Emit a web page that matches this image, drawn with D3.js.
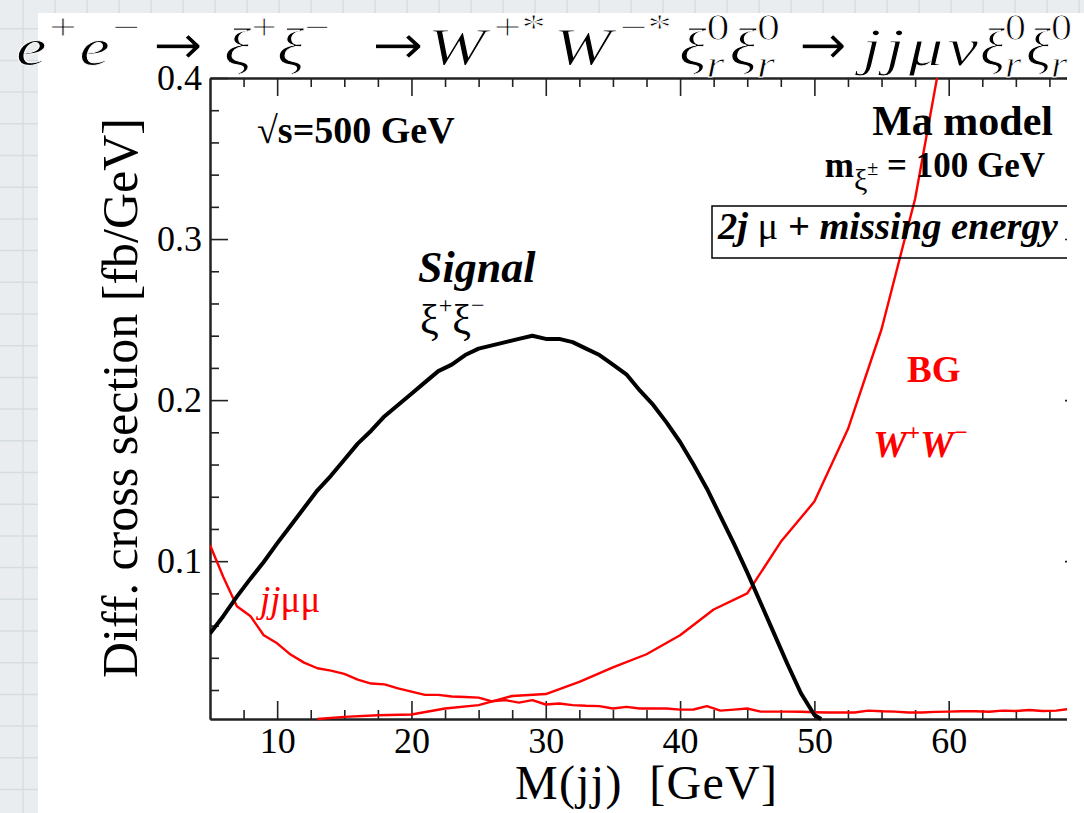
<html>
<head>
<script src="https://d3js.org/d3.v7.min.js"></script>
<style>
  body { margin: 0; }
  svg { display: block; font-family: "Liberation Serif", "Times New Roman", serif; }
  .axis path, .axis line { stroke: #222; }
</style>
</head>
<body>
<svg width="1084" height="813"></svg>
<script>
// signal: e+e- -> xi+ xi- (black)
var sigX = [5,6,7,8,9,10,11,12,13,14,15,16,17,18,19,20,21,22,23,24,25,26,27,28,29,30,31,32,33,34,35,36,37,38,39,40,41,42,43,44,45,46,47,48,49,50,50.5]
var sigY = [0.055,0.066,0.078,0.089,0.0995,0.111,0.122,0.133,0.144,0.153,0.163,0.173,0.181,0.190,0.197,0.204,0.211,0.218,0.222,0.228,0.232,0.234,0.236,0.238,0.240,0.238,0.238,0.236,0.232,0.228,0.222,0.216,0.206,0.197,0.186,0.174,0.160,0.145,0.128,0.111,0.093,0.074,0.055,0.036,0.018,0.0045,0.002]
// background jj mu mu (red)
var jjmmX = [5,6,7,8,9,10,11,12,13,14,15,16,17,18,19,20,21,22,23,24,25,26,27,28,29,30,31,32,33,34,35,36,37,38,39,40,41,42,43,44,45,46,47,48,49,50,51,52,53,54,55,56,57,58,59,60,61,62,63,64,65,66,67,68,69,70]
var jjmmY = [0.110,0.090,0.072,0.066,0.054,0.049,0.042,0.037,0.0335,0.032,0.030,0.0265,0.024,0.0235,0.021,0.019,0.017,0.017,0.016,0.0157,0.0153,0.013,0.0137,0.0122,0.0137,0.011,0.0116,0.0106,0.0102,0.010,0.0085,0.0095,0.0085,0.0085,0.0085,0.0078,0.0079,0.0100,0.0072,0.0078,0.0085,0.0066,0.0066,0.0066,0.0065,0.0062,0.006,0.006,0.006,0.0072,0.0068,0.0066,0.006,0.006,0.0064,0.0066,0.0068,0.0068,0.0065,0.0072,0.007,0.0076,0.007,0.0072,0.0082,0.009]
// background W+W- (red)
var wwX = [13,15,17.5,20,22.5,25,27.5,30,32.5,35,37.5,40,42.5,45,47.5,50,52.5,55,57.5,60]
var wwY = [0.002,0.0033,0.0043,0.0048,0.0085,0.0106,0.0163,0.0175,0.025,0.034,0.0422,0.054,0.070,0.080,0.112,0.137,0.182,0.244,0.325,0.44]

var xMajor = [10,20,30,40,50,60,70]
var xLabels = [10,20,30,40,50,60]
var xMinor = [7.5,12.5,15,17.5,22.5,25,27.5,32.5,35,37.5,42.5,45,47.5,52.5,55,57.5,62.5,65,67.5]
var yMajor = [0.1,0.2,0.3,0.4]
var yMinor = [0.02,0.04,0.06,0.08,0.12,0.14,0.16,0.18,0.22,0.24,0.26,0.28,0.32,0.34,0.36,0.38]

const W = 1084, H = 813
const pL = 210, pR = 1083, pT = 78, pB = 719
const cropX = 1067

var svg = d3.select("svg")
var x = d3.scaleLinear().domain([5,70]).range([pL,pR])
var y = d3.scaleLinear().domain([0.002,0.4]).range([pB,pT])

// page background: graph paper
svg.append("rect").attr("width",W).attr("height",H).attr("fill","#eaedef")
svg.append("g").selectAll("line").data(d3.range(23,W,32)).enter().append("line")
  .attr("x1",d=>d).attr("x2",d=>d).attr("y1",0).attr("y2",H)
  .attr("stroke","#d6dde1").attr("stroke-width",1.5)
svg.append("g").selectAll("line").data(d3.range(-3,H,31.7)).enter().append("line")
  .attr("y1",d=>d).attr("y2",d=>d).attr("x1",0).attr("x2",W)
  .attr("stroke","#d6dde1").attr("stroke-width",1.5)
svg.append("rect").attr("x",38).attr("y",13).attr("width",W-38).attr("height",H-13).attr("fill","white")

svg.append("clipPath").attr("id","crop").append("rect")
  .attr("x",0).attr("y",0).attr("width",cropX).attr("height",H)
svg.append("clipPath").attr("id","frame").append("rect")
  .attr("x",pL).attr("y",pT).attr("width",cropX-pL).attr("height",pB-pT+3)

var plot = svg.append("g").attr("clip-path","url(#crop)")

// axes
function styleAxis(g, fs){
  g.attr("class","axis")
  g.select(".domain").attr("stroke-width",2)
  g.selectAll(".tick line").attr("stroke-width",1.6)
  g.selectAll("text").attr("font-size",fs).attr("fill","#000").attr("font-family","Liberation Serif")
}
plot.append("g").attr("transform","translate(0,"+pB+")")
  .call(d3.axisBottom(x).tickValues(xMajor).tickSize(-18).tickSizeOuter(0).tickPadding(8)
    .tickFormat(d => xLabels.includes(d) ? d3.format("d")(d) : ""))
  .call(g=>styleAxis(g,36))
plot.append("g").attr("transform","translate(0,"+pB+")")
  .call(d3.axisBottom(x).tickValues(xMinor).tickSize(-9).tickSizeOuter(0).tickFormat(""))
  .call(g=>styleAxis(g,36))
plot.append("g").attr("transform","translate(0,"+pT+")")
  .call(d3.axisTop(x).tickValues(xMajor).tickSize(-18).tickSizeOuter(0).tickFormat(""))
  .call(g=>styleAxis(g,36))
plot.append("g").attr("transform","translate(0,"+pT+")")
  .call(d3.axisTop(x).tickValues(xMinor).tickSize(-9).tickSizeOuter(0).tickFormat(""))
  .call(g=>styleAxis(g,36))
plot.append("g").attr("transform","translate("+pL+",0)")
  .call(d3.axisLeft(y).tickValues(yMajor).tickSize(-18).tickSizeOuter(0).tickPadding(8).tickFormat(d3.format(".1f")))
  .call(g=>styleAxis(g,36))
plot.append("g").attr("transform","translate("+pL+",0)")
  .call(d3.axisLeft(y).tickValues(yMinor).tickSize(-9).tickSizeOuter(0).tickFormat(""))
  .call(g=>styleAxis(g,36))
plot.append("g").attr("transform","translate("+pR+",0)")
  .call(d3.axisRight(y).tickValues(yMajor).tickSize(-18).tickSizeOuter(0).tickFormat(""))
  .call(g=>styleAxis(g,36))

// curves
var curves = plot.append("g").attr("clip-path","url(#frame)")
function drawLine(xs, ys, color, width){
  var pts = xs.map((d,i)=>[d, ys[i]])
  curves.append("path").datum(pts)
    .attr("fill","none").attr("stroke",color).attr("stroke-width",width)
    .attr("stroke-linejoin","round")
    .attr("d", d3.line().x(d=>x(d[0])).y(d=>y(d[1])))
}
drawLine(jjmmX, jjmmY, "#ff0000", 2.4)
drawLine(wwX, wwY, "#ff0000", 2.4)
drawLine(sigX, sigY, "#000", 4)

// in-plot labels
plot.append("text").attr("x",257).attr("y",143).attr("font-size",38).attr("font-weight","bold").text("√s=500 GeV")
plot.append("text").attr("x",1053).attr("y",135).attr("font-size",42).attr("font-weight","bold").attr("text-anchor","end").text("Ma model")
var mt = plot.append("text").attr("x",1045).attr("y",177).attr("font-size",35).attr("font-weight","bold").attr("text-anchor","end")
mt.append("tspan").text("m")
mt.append("tspan").attr("font-size",30).attr("font-weight","normal").attr("dy",13).text("ξ")
mt.append("tspan").attr("font-size",20).attr("font-weight","normal").attr("dy",-15).text("±")
mt.append("tspan").attr("dy",2).text(" = 100 GeV")
plot.append("rect").attr("x",712).attr("y",206).attr("width",400).attr("height",52)
  .attr("fill","none").attr("stroke","#000").attr("stroke-width",1.5)
var bt = plot.append("text").attr("x",718).attr("y",239).attr("font-size",38.5)
bt.append("tspan").attr("font-weight","bold").attr("font-style","italic").text("2j ")
bt.append("tspan").text("μ")
bt.append("tspan").attr("font-weight","bold").attr("font-style","italic").text(" + missing energy")

plot.append("text").attr("x",418).attr("y",282).attr("font-size",44).attr("font-weight","bold").attr("font-style","italic").text("Signal")
var st = plot.append("text").attr("x",420).attr("y",334).attr("font-size",42)
st.append("tspan").text("ξ")
st.append("tspan").attr("font-size",24).attr("dy",-21).text("+")
st.append("tspan").attr("dy",21).text("ξ")
st.append("tspan").attr("font-size",24).attr("dy",-21).text("−")

var jt = plot.append("text").attr("x",260).attr("y",612).attr("font-size",37).attr("fill","#ff0000")
jt.append("tspan").attr("font-style","italic").text("jj")
jt.append("tspan").text("μμ")
plot.append("text").attr("x",907).attr("y",382).attr("font-size",37).attr("font-weight","bold").attr("fill","#ff0000").text("BG")
var wt = plot.append("text").attr("x",873).attr("y",457).attr("font-size",38).attr("font-weight","bold").attr("font-style","italic").attr("fill","#ff0000")
wt.append("tspan").text("W")
wt.append("tspan").attr("font-size",23).attr("dy",-17).text("+")
wt.append("tspan").attr("dy",17).text("W")
wt.append("tspan").attr("font-size",23).attr("dy",-17).text("−")

// axis titles
svg.append("text").attr("x",646).attr("y",799).attr("font-size",48).attr("text-anchor","middle")
  .attr("textLength",262).style("white-space","pre").text("M(jj)  [GeV]")
svg.append("text").attr("transform","translate(137,398) rotate(-90)").attr("font-size",50)
  .attr("text-anchor","middle").text("Diff. cross section [fb/GeV]")

// title, LaTeX-like: pieces measured, widened (CM is wider than Times), leftover spread as gaps
function mathSeg(x0, x1, items){
  var g = svg.append("g").attr("stroke","#fff").attr("stroke-width",0.9)
  var pieces = []
  items.forEach(function(it){
    var grp = g.append("g"), w = 0
    if (it.b){
      var t = grp.append("text").attr("y",it.arrow ? -1 : 0).attr("font-size",it.arrow ? 56 : 53)
        .attr("font-family", it.arrow ? "DejaVu Sans" : "Liberation Serif")
        .attr("font-style", it.arrow ? "normal" : "italic").text(it.b)
      w = t.node().getComputedTextLength()
    } else {
      if (it.sup){
        var t1 = grp.append("text").attr("y",-25).attr("font-size",38).text(it.sup)
        w = Math.max(w, t1.node().getComputedTextLength())
      }
      if (it.sub){
        var t2 = grp.append("text").attr("y",12).attr("font-size",38).attr("font-style","italic").text(it.sub)
        w = Math.max(w, t2.node().getComputedTextLength())
      }
    }
    pieces.push({grp:grp, w:w})
  })
  var total = d3.sum(pieces, p=>p.w)
  var n = pieces.length - 1
  var s = n ? Math.min(1.3, (x1-x0)/total) : (x1-x0)/total
  var gap = n ? Math.max(0, ((x1-x0)/s - total)/n) : 0
  var cx = 0
  pieces.forEach(function(p){
    p.grp.attr("transform","translate("+cx+",0)")
    cx += p.w + gap
  })
  g.attr("transform","translate("+x0+",65) scale("+s+",1)")
}
var xi0r = [{b:"ξ"},{sup:"0",sub:"r"},{b:"ξ"},{sup:"0",sub:"r"}]
mathSeg(16,140,[{b:"e"},{sup:"+"},{b:"e"},{sup:"−"}])
mathSeg(153,203,[{b:"→",arrow:true}])
mathSeg(224,330,[{b:"ξ"},{sup:"+"},{b:"ξ"},{sup:"−"}])
mathSeg(372,424,[{b:"→",arrow:true}])
mathSeg(428,672,[{b:"W"},{sup:"+*"},{b:"W"},{sup:"−*"}])
mathSeg(679,780,xi0r)
mathSeg(799,847,[{b:"→",arrow:true}])
mathSeg(862,978,[{b:"j"},{b:"j"},{b:"μ"},{b:"ν"}])
mathSeg(980,1072,xi0r)
</script>
</body>
</html>
